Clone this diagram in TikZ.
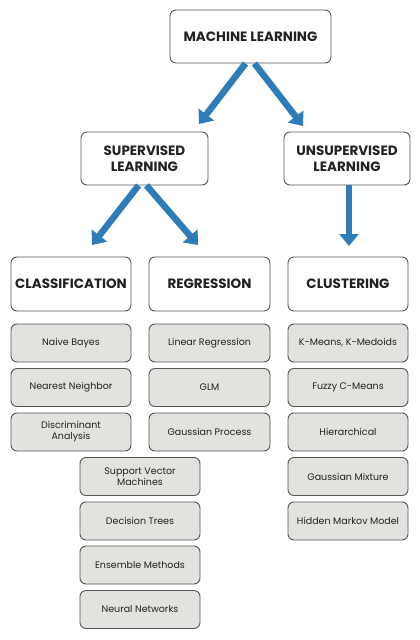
\documentclass[tikz,border=0pt]{standalone}
\usepackage{fontspec}
\setmainfont{Poppins}
\usetikzlibrary{arrows.meta}
\definecolor{arrblue}{HTML}{2F7DB8}
\definecolor{boxgray}{HTML}{E4E2DE}
\definecolor{edgegray}{HTML}{555555}
\definecolor{txt}{HTML}{222222}
\tikzset{
  head/.style={draw=edgegray, line width=0.9pt, rounded corners=6pt, fill=white,
    minimum height=53pt, align=center, text=txt, font=\fontsize{13.5}{15.5}\selectfont\bfseries, inner sep=2pt},
  leaf/.style={draw=edgegray, line width=0.9pt, rounded corners=6pt, fill=boxgray,
    minimum width=120pt, minimum height=38pt, align=center, text=txt,
    font=\fontsize{9.5}{11}\selectfont, inner sep=2pt},
  arr/.style={draw=arrblue, line width=6.5pt, -{Triangle[width=19pt,length=12pt]}, shorten >=0pt},
}
\begin{document}
\begin{tikzpicture}[x=1pt,y=-1pt]
\useasboundingbox (0,0) rectangle (420,640);
\node[head, minimum width=161pt] (ml) at (250.5,36.5) {MACHINE LEARNING};
\node[head, minimum width=127pt] (sup) at (144.5,158.5) {SUPERVISED\\LEARNING};
\node[head, minimum width=126pt] (uns) at (347,158.5) {UNSUPERVISED\\LEARNING};
\node[head, minimum width=120pt, minimum height=54pt] (cls) at (71,284) {CLASSIFICATION};
\node[head, minimum width=121pt, minimum height=54pt] (reg) at (209.5,284) {REGRESSION};
\node[head, minimum width=120pt, minimum height=54pt] (clu) at (348,284) {CLUSTERING};
% classification
\node[leaf] (c1) at (71,343) {Naive Bayes};
\node[leaf] (c2) at (71,387.5) {Nearest Neighbor};
\node[leaf] (c3) at (71,432) {Discriminant\\Analysis};
\node[leaf] (c4) at (140,476.5) {Support Vector\\Machines};
\node[leaf] (c5) at (140,521) {Decision Trees};
\node[leaf] (c6) at (140,565) {Ensemble Methods};
\node[leaf] (c7) at (140,609.5) {Neural Networks};
% regression
\node[leaf, minimum width=121pt] (r1) at (209.5,343) {Linear Regression};
\node[leaf, minimum width=121pt] (r2) at (209.5,387.5) {GLM};
\node[leaf, minimum width=121pt] (r3) at (209.5,432) {Gaussian Process};
% clustering
\node[leaf] (k1) at (348,343) {K-Means, K-Medoids};
\node[leaf] (k2) at (348,387.5) {Fuzzy C-Means};
\node[leaf] (k3) at (348,432) {Hierarchical};
\node[leaf] (k4) at (348,476.5) {Gaussian Mixture};
\node[leaf] (k5) at (348,521) {Hidden Markov Model};
% arrow ends
\coordinate (t1) at (199,124);
\coordinate (t2) at (303,126);
\coordinate (t3) at (92,245);
\coordinate (t4) at (198,245);
\coordinate (t5) at (349,246);
\draw[arr] ([xshift=-5pt]ml.south) -- (t1);
\draw[arr] ([xshift=4pt]ml.south) -- (t2);
\draw[arr] ([xshift=-6pt]sup.south) -- (t3);
\draw[arr] ([xshift=2pt]sup.south) -- (t4);
\draw[arr] ([xshift=2pt]uns.south) -- (t5);
\end{tikzpicture}
\end{document}
